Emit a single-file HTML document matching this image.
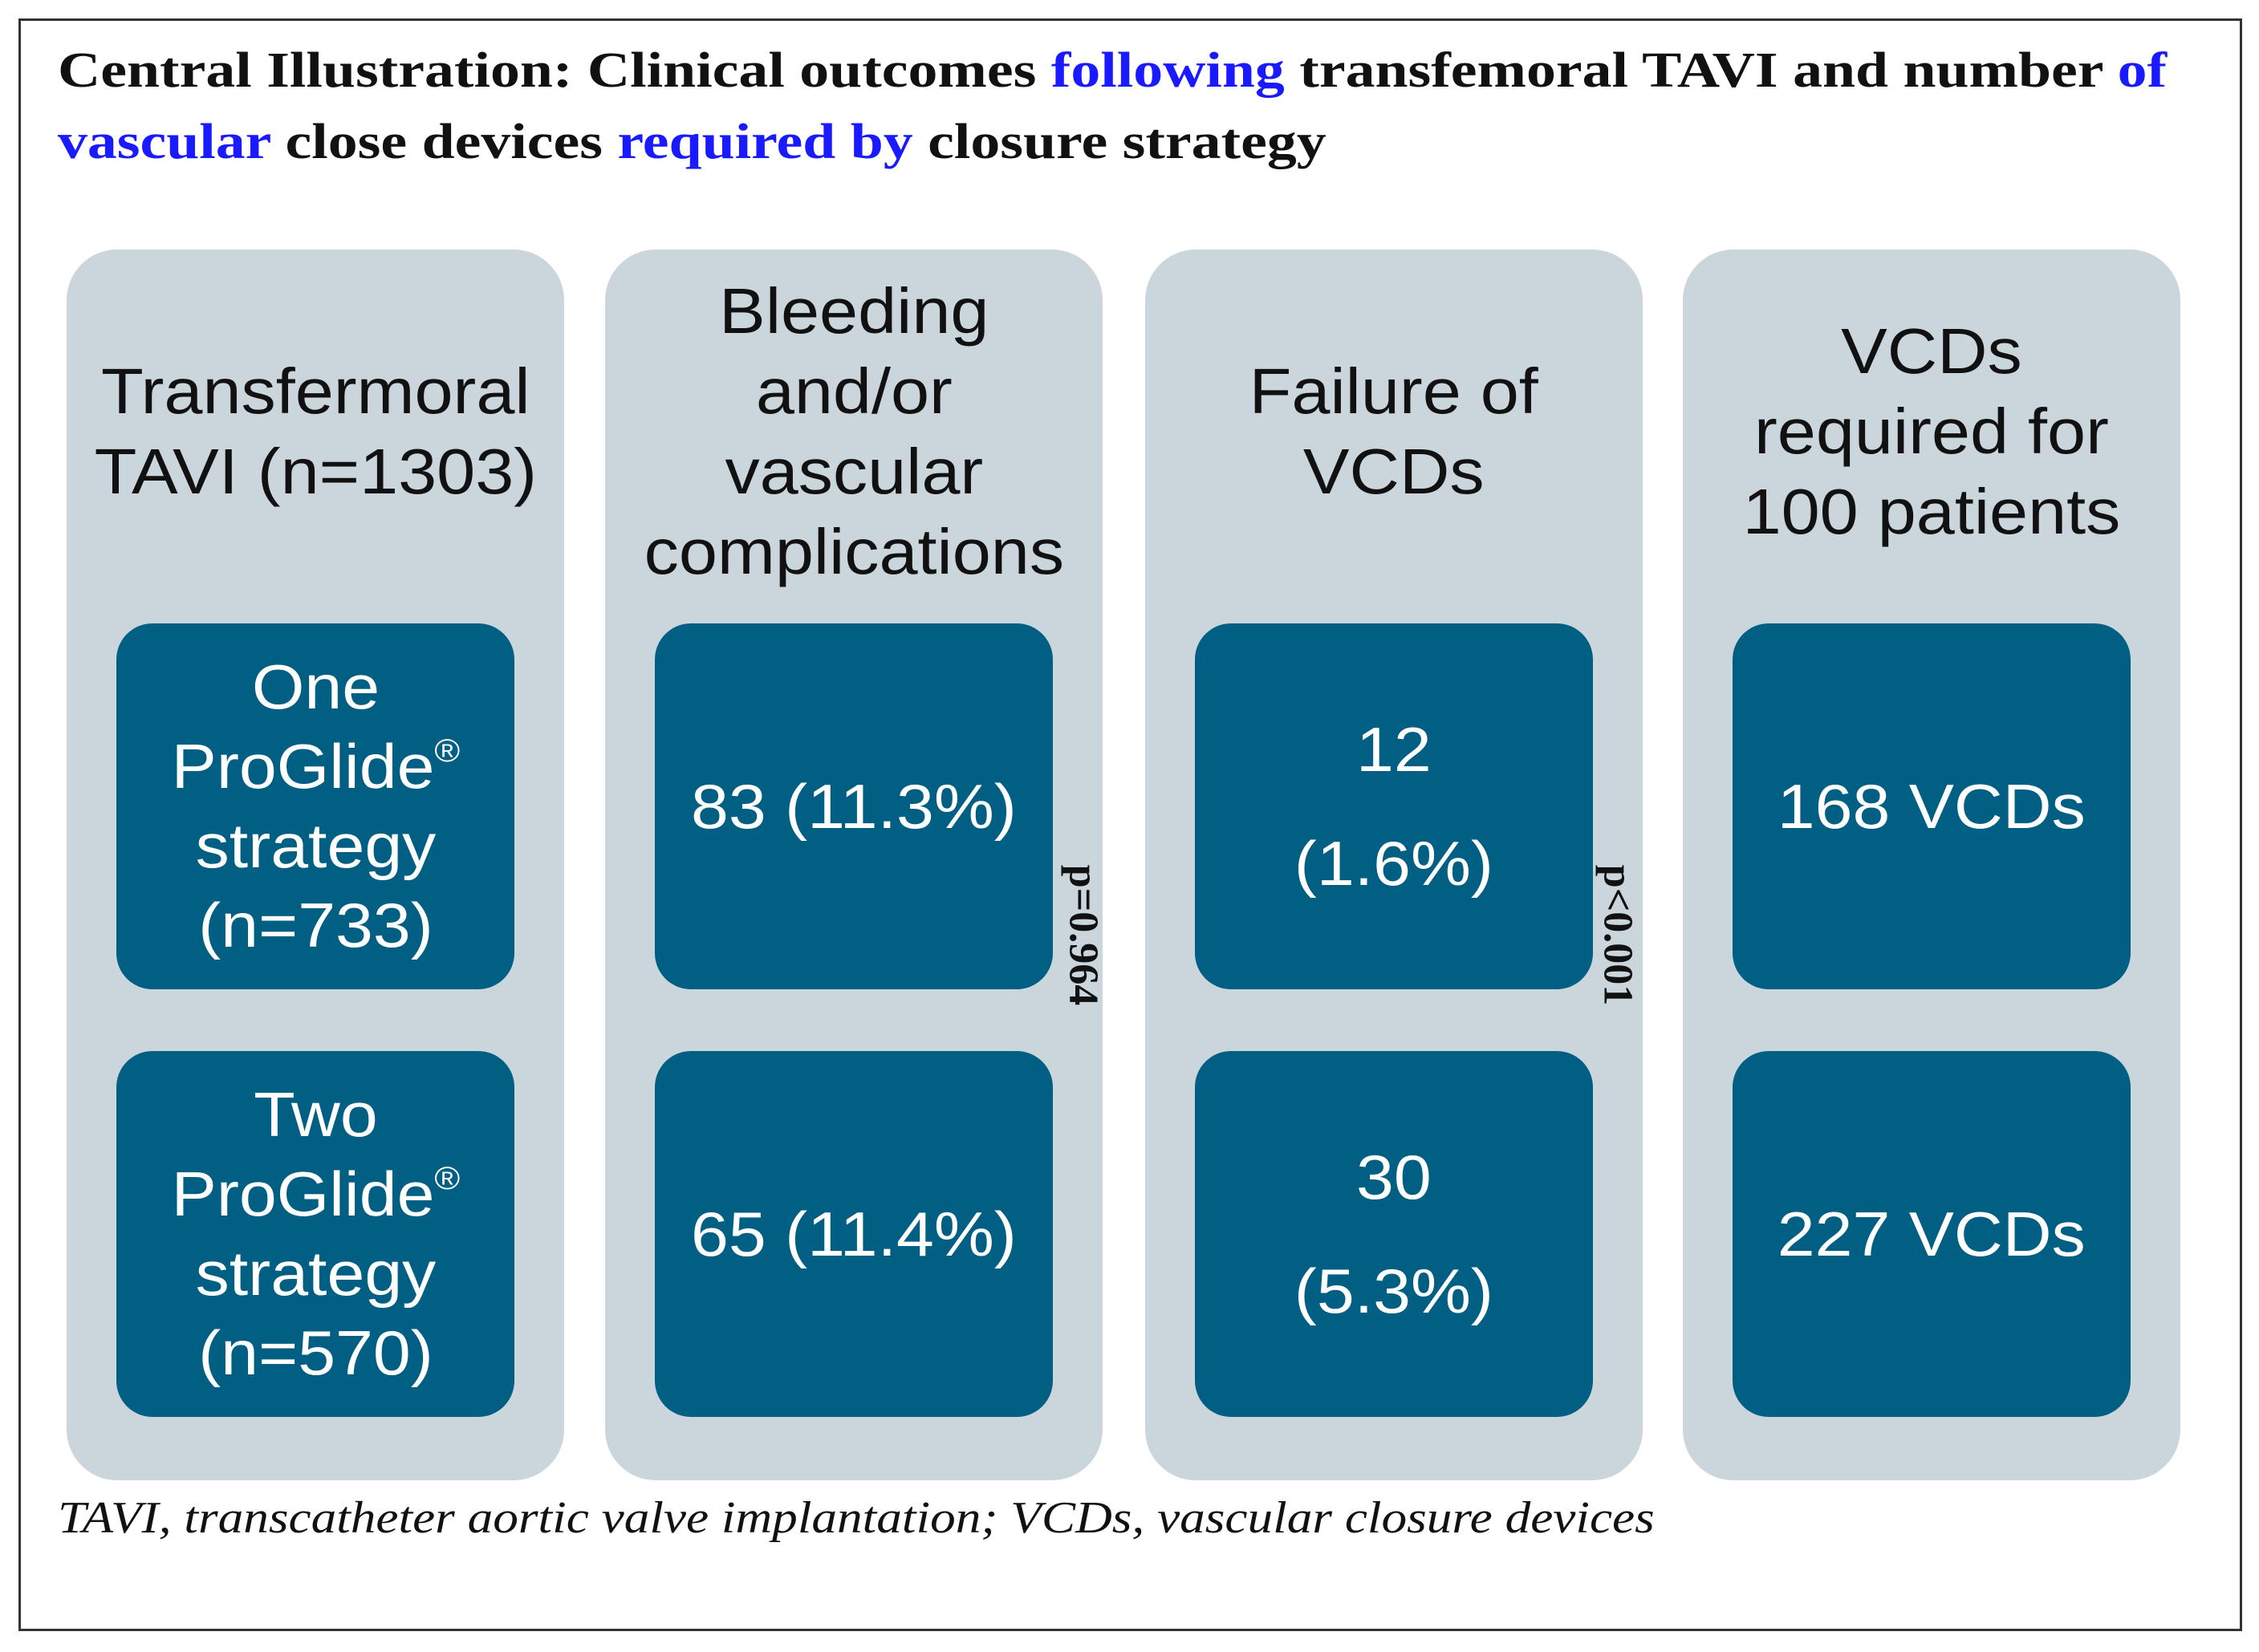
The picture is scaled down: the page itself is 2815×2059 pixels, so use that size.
<!DOCTYPE html>
<html><head><meta charset="utf-8"><style>
*{margin:0;padding:0;box-sizing:border-box}
body{width:2815px;height:2059px;background:#fff;position:relative;overflow:hidden;font-family:"Liberation Sans",sans-serif}
.frame{position:absolute;left:23px;top:23px;width:2771px;height:2010px;border:3px solid #333}
.title{position:absolute;left:72px;top:44px;width:2400px;font-family:"Liberation Serif",serif;font-weight:bold;font-size:62px;line-height:89px;color:#111;transform:scaleX(1.19);transform-origin:left top;white-space:nowrap}
.title .b{color:#1a1aff}
.panel{position:absolute;top:311px;width:620px;height:1534px;background:#cbd5dc;border-radius:63px}
.head{position:absolute;left:0;top:0;width:100%;height:454px;display:flex;align-items:center;justify-content:center;text-align:center;font-size:80px;line-height:100px;color:#111}
.head span,.box span{display:block;transform:scaleX(1.08)}
.box{position:absolute;left:62px;width:496px;height:456px;background:#005f83;border-radius:45px;display:flex;align-items:center;justify-content:center;text-align:center;color:#fff;font-size:78px;line-height:99px}
.b1{top:466px}.b2{top:999px}
.tall{line-height:142px}
.p{position:absolute;font-family:"Liberation Serif",serif;font-weight:bold;font-size:52px;transform:rotate(90deg);transform-origin:center;white-space:nowrap;color:#111}
.foot{position:absolute;left:72px;top:1860px;font-family:"Liberation Serif",serif;font-style:italic;font-size:56px;color:#111;transform:scaleX(1.13);transform-origin:left top;white-space:nowrap}
sup{font-size:40px;vertical-align:top;line-height:60px}
</style></head><body>
<div class="frame"></div>
<div class="title">Central Illustration: Clinical outcomes <span class="b">following</span> transfemoral TAVI and number <span class="b">of</span><br><span class="b">vascular</span> close devices <span class="b">required by</span> closure strategy</div>

<div class="panel" style="left:83px">
 <div class="head"><span>Transfermoral<br>TAVI (n=1303)</span></div>
 <div class="box b1"><span>One<br>ProGlide<sup>®</sup><br>strategy<br>(n=733)</span></div>
 <div class="box b2"><span>Two<br>ProGlide<sup>®</sup><br>strategy<br>(n=570)</span></div>
</div>
<div class="panel" style="left:754px">
 <div class="head"><span>Bleeding<br>and/or<br>vascular<br>complications</span></div>
 <div class="box b1"><span>83 (11.3%)</span></div>
 <div class="box b2"><span>65 (11.4%)</span></div>
</div>
<div class="panel" style="left:1427px">
 <div class="head"><span>Failure of<br>VCDs</span></div>
 <div class="box b1 tall"><span>12<br>(1.6%)</span></div>
 <div class="box b2 tall"><span>30<br>(5.3%)</span></div>
</div>
<div class="panel" style="left:2097px">
 <div class="head"><span>VCDs<br>required for<br>100 patients</span></div>
 <div class="box b1"><span>168 VCDs</span></div>
 <div class="box b2"><span>227 VCDs</span></div>
</div>
<div class="p" style="left:1262px;top:1136px">p=0.964</div>
<div class="p" style="left:1928px;top:1136px">p&lt;0.001</div>
<div class="foot">TAVI, transcatheter aortic valve implantation; VCDs, vascular closure devices</div>
</body></html>
